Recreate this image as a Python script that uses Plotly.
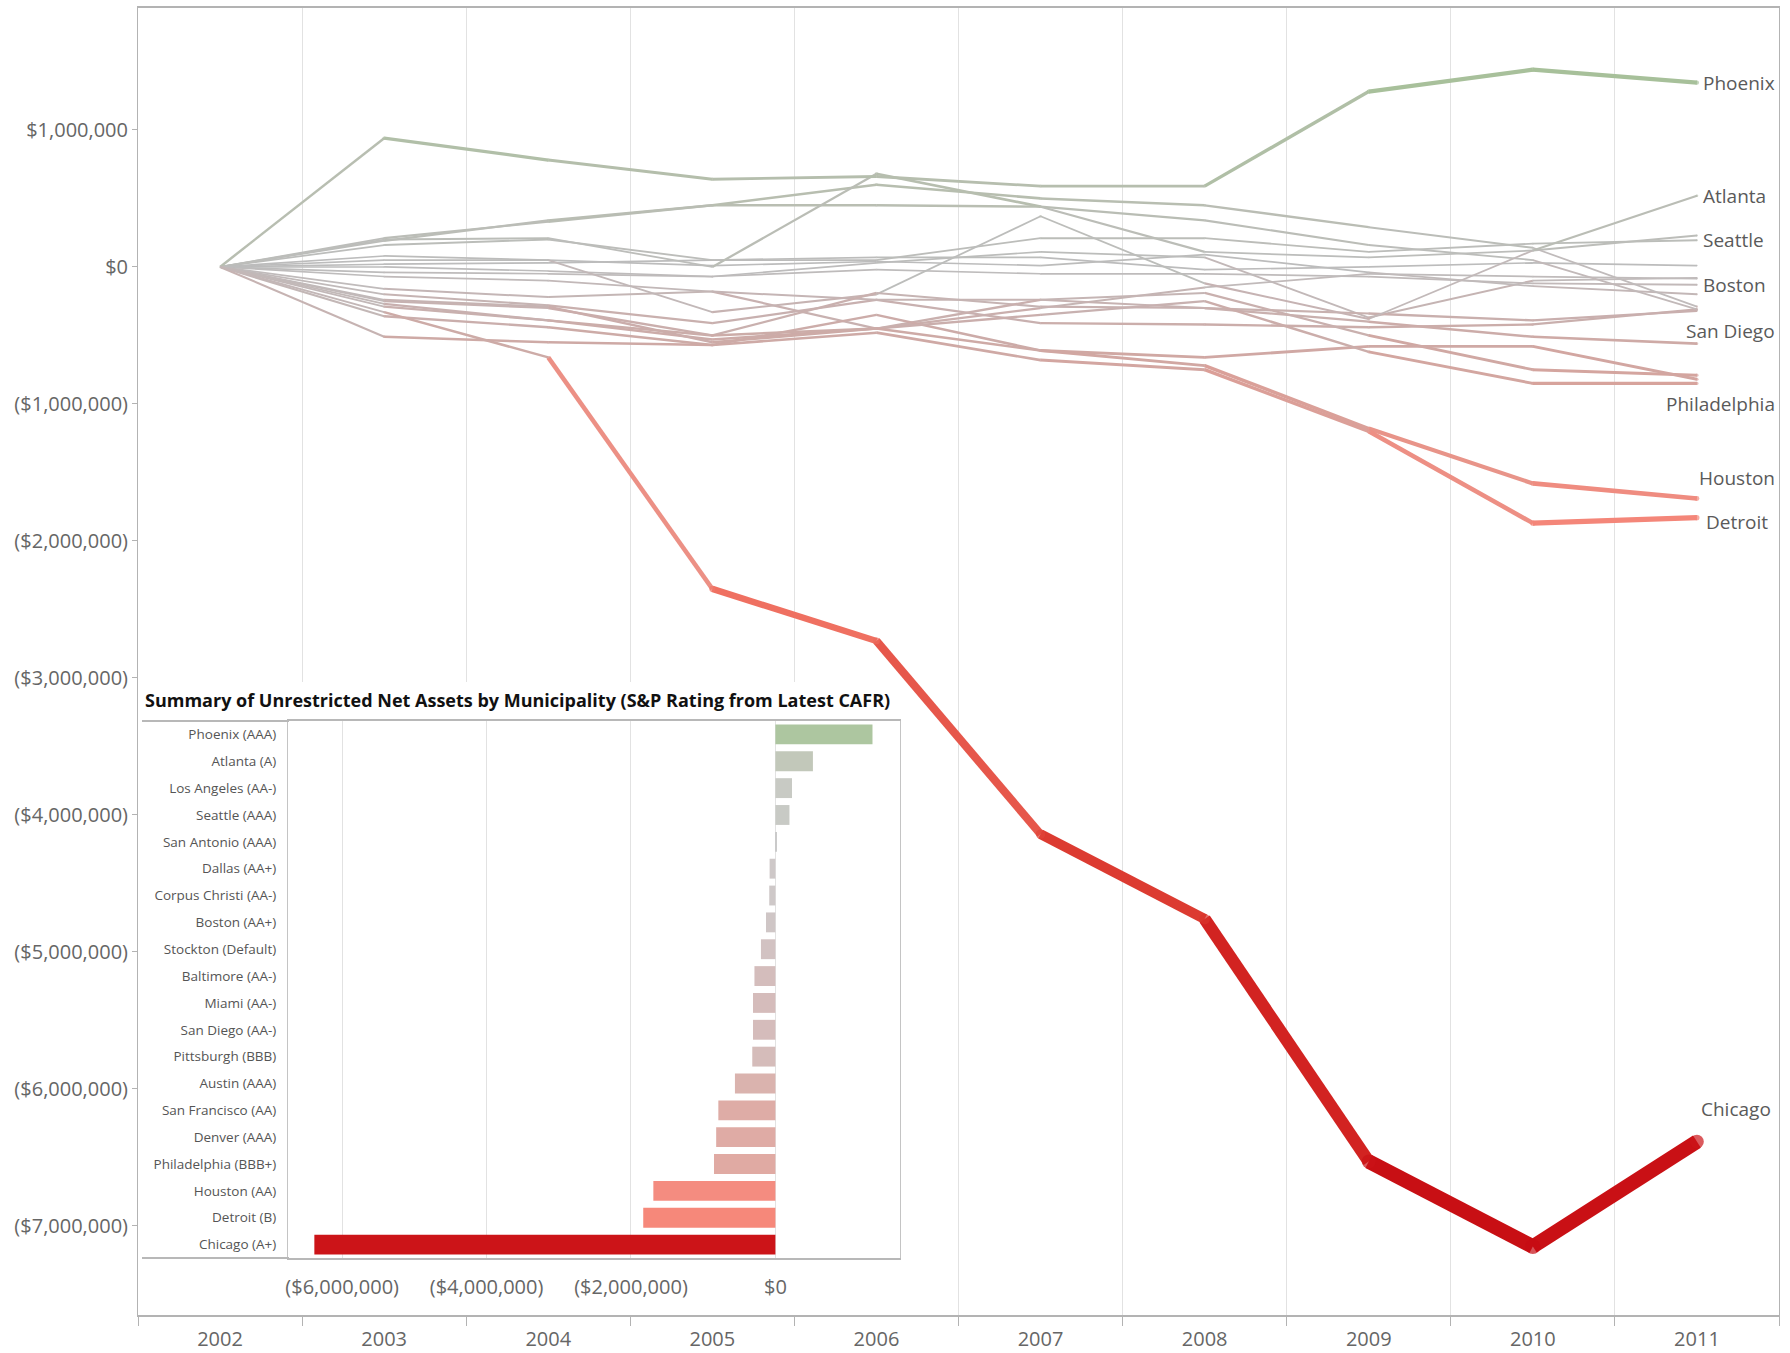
import plotly.graph_objects as go

# ---------------- data ----------------
years = ["2002", "2003", "2004", "2005", "2006", "2007", "2008", "2009", "2010", "2011"]

# cumulative change in unrestricted net assets (dollars)
phoenix        = [0, 940000, 780000, 640000, 660000, 590000, 590000, 1280000, 1440000, 1345000]
atlanta        = [0, 50000, 50000, -330000, -200000, 370000, -120000, -380000, 120000, 520000]
los_angeles    = [0, 210000, 330000, 450000, 450000, 440000, 110000, 70000, 120000, 230000]
seattle        = [0, 160000, 200000, 50000, 50000, 210000, 210000, 110000, 170000, 195000]
san_antonio    = [0, 20000, 30000, 50000, 70000, 70000, -20000, 0, 30000, 10000]
dallas         = [0, -40000, -50000, -70000, 30000, 110000, 70000, -370000, -100000, -80000]
corpus_christi = [0, -70000, -100000, -180000, -450000, -300000, -150000, -50000, -70000, -85000]
boston         = [0, 0, -30000, -70000, -20000, -50000, -50000, -70000, -120000, -130000]
stockton       = [0, 80000, 50000, 10000, 40000, 10000, 90000, -40000, -140000, -200000]
baltimore      = [0, 190000, 340000, 450000, 600000, 500000, 450000, 290000, 140000, -290000]
miami          = [0, -200000, -280000, -410000, -240000, -410000, -420000, -440000, -420000, -310000]
san_diego      = [0, 200000, 210000, 0, 680000, 440000, 340000, 160000, 50000, -310000]
pittsburgh     = [0, -160000, -220000, -180000, -240000, -240000, -300000, -340000, -390000, -320000]
austin         = [0, -250000, -300000, -500000, -190000, -290000, -300000, -400000, -510000, -560000]
san_francisco  = [0, -290000, -390000, -530000, -450000, -240000, -190000, -500000, -750000, -790000]
denver         = [0, -360000, -440000, -570000, -350000, -610000, -660000, -580000, -580000, -820000]
philadelphia   = [0, -240000, -290000, -550000, -450000, -350000, -250000, -620000, -850000, -850000]
houston        = [0, -270000, -390000, -500000, -450000, -610000, -720000, -1180000, -1580000, -1690000]
detroit        = [0, -510000, -550000, -570000, -480000, -680000, -750000, -1200000, -1870000, -1830000]
chicago        = [0, -330000, -660000, -2350000, -2730000, -4140000, -4760000, -6530000, -7150000, -6385000]

cities = ["Phoenix", "Atlanta", "Los Angeles", "Seattle", "San Antonio", "Dallas",
          "Corpus Christi", "Boston", "Stockton", "Baltimore", "Miami", "San Diego",
          "Pittsburgh", "Austin", "San Francisco", "Denver", "Philadelphia",
          "Houston", "Detroit", "Chicago"]
ratings = ["AAA", "A", "AA-", "AAA", "AAA", "AA+", "AA-", "AA+", "Default", "AA-",
           "AA-", "AA-", "BBB", "AAA", "AA", "AAA", "BBB+", "AA", "B", "A+"]
series = [phoenix, atlanta, los_angeles, seattle, san_antonio, dallas, corpus_christi,
          boston, stockton, baltimore, miami, san_diego, pittsburgh, austin,
          san_francisco, denver, philadelphia, houston, detroit, chicago]

labeled = ["Phoenix", "Atlanta", "Seattle", "Boston", "San Diego", "Philadelphia",
           "Houston", "Detroit", "Chicago"]

y_ticks = [1000000, 0, -1000000, -2000000, -3000000, -4000000, -5000000, -6000000, -7000000]
bar_ticks = [-6000000, -4000000, -2000000, 0]

title_text = "Summary of Unrestricted Net Assets by Municipality (S&amp;P Rating from Latest CAFR)"

# ---------------- styling helpers ----------------
FONT = "Open Sans"
stops = [(-7.2, "#c60c12"), (-6.4, "#cc1418"), (-4.5, "#dc3a30"), (-2.5, "#f07263"),
         (-1.8, "#f7897c"), (-1.2, "#eb9e94"), (-0.8, "#dfaca6"), (-0.5, "#d9b5b1"),
         (-0.3, "#d5bdbc"), (-0.1, "#cfc8c8"), (0.0, "#cbcbcb"), (0.25, "#c8cac4"),
         (0.5, "#c3c9bb"), (1.35, "#adc6a0"), (1.5, "#a8c49a")]


def h2r(h):
    return [int(h[i:i + 2], 16) for i in (1, 3, 5)]


def color_rgb(v):
    m = v / 1e6
    if m <= stops[0][0]:
        return h2r(stops[0][1])
    if m >= stops[-1][0]:
        return h2r(stops[-1][1])
    for (a, ca), (b, cb) in zip(stops[:-1], stops[1:]):
        if a <= m <= b:
            t = (m - a) / (b - a)
            r1, r2 = h2r(ca), h2r(cb)
            return [r1[i] + (r2[i] - r1[i]) * t for i in range(3)]


def width_of(v):
    return 1.6 + 1.9 * abs(v) / 1e6


def line_color(v):
    w = width_of(v)
    dk = max(0.0, 0.07 * (1 - (w - 1.6) / 4.0))
    r = color_rgb(v)
    return "rgb(%d,%d,%d)" % tuple(int(c * (1 - dk)) for c in r)


def bar_color(v):
    return "rgb(%d,%d,%d)" % tuple(int(c) for c in color_rgb(v))


def money(v):
    if v >= 0:
        return "${:,.0f}".format(v)
    return "(${:,.0f})".format(-v)


fig = go.Figure()

# main lines: each segment sized/coloured by its value
order = sorted(range(len(cities)), key=lambda k: abs(series[k][-1]))
for k in order:
    vals = series[k]
    for i in range(len(years) - 1):
        vm = (vals[i] + vals[i + 1]) / 2
        fig.add_trace(go.Scatter(
            x=[years[i], years[i + 1]], y=[vals[i], vals[i + 1]], mode="lines",
            line=dict(color=line_color(vm), width=width_of(vm)),
            hoverinfo="skip", showlegend=False, xaxis="x", yaxis="y"))
    fig.add_trace(go.Scatter(
        x=years[1:], y=vals[1:], mode="markers",
        marker=dict(size=[width_of(v) for v in vals[1:]],
                    color=[line_color(v) for v in vals[1:]], line=dict(width=0)),
        hoverinfo="skip", showlegend=False, xaxis="x", yaxis="y"))

# inset bars (latest year)
bar_labels = ["%s (%s)" % (c, r) for c, r in zip(cities, ratings)]
bar_vals = [s[-1] for s in series]
fig.add_trace(go.Bar(
    x=bar_vals, y=bar_labels, orientation="h",
    marker=dict(color=[bar_color(v) for v in bar_vals], line=dict(width=0)),
    hoverinfo="skip", showlegend=False, xaxis="x2", yaxis="y2"))

# ---------------- layout ----------------
W, H = 1790, 1353
ML, MR, MT, MB = 138, 11, 8, 38
PW, PH = W - ML - MR, H - MT - MB


def px_x(p):
    return (p - ML) / PW


def px_y(p):
    return (H - MB - p) / PH


axis_grey = "#b3b3b3"
tick_font = dict(family=FONT, size=20, color="#666666")

fig.update_layout(
    width=W, height=H,
    margin=dict(l=ML, r=MR, t=MT, b=MB, autoexpand=False),
    paper_bgcolor="white", plot_bgcolor="white",
    bargap=0.26,
    xaxis=dict(type="category", categoryorder="array", categoryarray=years,
               range=[-0.5, 9.5], tickson="boundaries", ticks="outside", ticklen=9,
               tickcolor=axis_grey, showgrid=True, gridcolor="#e2e2e2", gridwidth=1,
               showline=True, linecolor=axis_grey, linewidth=1.5, mirror=True,
               tickfont=tick_font, ticklabelstandoff=5, zeroline=False, domain=[0, 1],
               automargin=False),
    yaxis=dict(range=[-7.65e6, 1.89e6], tickvals=y_ticks,
               ticktext=[money(v) for v in y_ticks], ticks="outside", ticklen=5,
               tickcolor=axis_grey, showgrid=False, zeroline=False, showline=True,
               linecolor=axis_grey, linewidth=1, mirror=True, tickfont=tick_font,
               domain=[0, 1], automargin=False),
    xaxis2=dict(domain=[px_x(288), px_x(900)], anchor="y2",
                range=[-6.75e6, 1.726e6], tickvals=bar_ticks,
                ticktext=[money(v) for v in bar_ticks], ticks="", ticklabelstandoff=10,
                showgrid=True, gridcolor="#e2e2e2", zeroline=False, showline=True,
                linecolor="#b8b8b8", linewidth=2, mirror=True, tickfont=tick_font,
                automargin=False),
    yaxis2=dict(domain=[px_y(1258), px_y(721)], anchor="x2", type="category",
                categoryorder="array", categoryarray=bar_labels,
                range=[19.5, -0.5], ticks="", ticklabelstandoff=8, showgrid=False,
                zeroline=False, showline=True, linecolor="#c4c4c4", linewidth=1,
                mirror=True, tickfont=dict(family=FONT, size=13.5, color="#555555"),
                automargin=False),
)

# white panel behind the inset (covers main gridlines, stays below the lines)
fig.add_shape(type="rect", xref="x", yref="y", x0=-0.5, x1=4.17, y0=-3.03e6, y1=-7.65e6,
              fillcolor="white", line=dict(width=0), layer="between")
# inset frame lines extended across the label column
for yy in (0, 1):
    fig.add_shape(type="line", xref="paper", yref="y2 domain", x0=px_x(142), x1=px_x(289),
                  y0=yy, y1=yy, line=dict(color="#b8b8b8", width=2), layer="above")

fig.add_annotation(text="<b>" + title_text + "</b>", xref="paper", yref="paper",
                   x=px_x(143), y=px_y(700), xanchor="left", yanchor="middle",
                   showarrow=False, font=dict(family=FONT, size=18, color="#111111"))

# end-of-line city labels
label_pos = {
    "Phoenix": ("left", 4, 0), "Atlanta": ("left", 4, 0), "Seattle": ("left", 4, 0),
    "Boston": ("left", 4, 0), "San Diego": ("right", 80, -22),
    "Philadelphia": ("right", 80, -21), "Houston": ("right", 80, 20),
    "Detroit": ("left", 7, -4), "Chicago": ("right", 76, 33),
}
last_idx = len(years) - 1
for name in labeled:
    k = cities.index(name)
    anc, xs, ys = label_pos[name]
    fig.add_annotation(text=name, x=last_idx, y=series[k][-1], xref="x", yref="y",
                       xanchor=anc, yanchor="middle", xshift=xs, yshift=ys,
                       showarrow=False, font=dict(family=FONT, size=19, color="#5a5a5a"))

fig.write_html("out.html", config={"displayModeBar": False},
               post_script="document.body.style.margin='0px';document.body.style.overflow='hidden';")
